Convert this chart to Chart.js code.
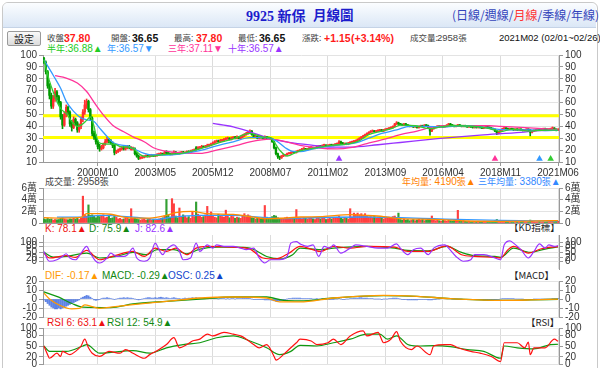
<!DOCTYPE html>
<html><head><meta charset="utf-8">
<script src="https://cdn.jsdelivr.net/npm/chart.js@4.4.0/dist/chart.umd.min.js"></script>
<style>
body{margin:0;width:600px;height:368px;overflow:hidden;background:#fff;position:relative;font-family:"Liberation Sans",Arial,"Noto Sans CJK TC",sans-serif;}
.t{position:absolute;white-space:nowrap;line-height:1;}
canvas{position:absolute;left:0;}
#frame{position:absolute;left:2px;top:2px;width:594px;height:370px;border:1px solid #c9c9c9;border-radius:6px;}
#hdr{position:absolute;left:3px;top:3px;width:593px;height:24px;border-radius:5px 5px 0 0;background:linear-gradient(#fbfdff,#dbe7f6);border-bottom:1px solid #c5d3e6;}
#btn{position:absolute;left:7px;top:31px;width:32px;height:13px;border:1px solid #9a9a9a;border-radius:2px;background:linear-gradient(#fafafa,#dcdcdc);font-size:10px;line-height:13px;text-align:center;color:#222;font-family:"Noto Sans CJK TC",sans-serif;}
.c{font-family:"Noto Sans CJK TC","Liberation Sans",sans-serif;}
</style></head><body>
<div id="frame"></div>
<div id="hdr"></div>
<div class="t" style="left:246px;top:8px;font-size:14px;font-weight:bold;color:#1c1ccc;font-family:'Liberation Serif','Noto Sans CJK TC',serif;">9925 <span class="c">新保</span></div>
<div class="t c" style="left:313px;top:8px;font-size:13.5px;font-weight:bold;color:#1c1ccc;">月線圖</div>
<div class="t c" style="left:452px;top:9px;font-size:12px;color:#3344bb;">(日線/週線/<span style="color:#ff3333">月線</span>/季線/年線)</div>
<div id="btn">設定</div>
<div class="t c" style="left:47px;top:33px;font-size:8.5px;color:#444;">收盤:</div>
<div class="t" style="left:64px;top:32.5px;font-size:10.5px;font-weight:bold;color:#ff1a1a;">37.80</div>
<div class="t c" style="left:111px;top:33px;font-size:8.5px;color:#444;">開盤:</div>
<div class="t" style="left:132px;top:32.5px;font-size:10.5px;font-weight:bold;color:#111;">36.65</div>
<div class="t c" style="left:174px;top:33px;font-size:8.5px;color:#444;">最高:</div>
<div class="t" style="left:196px;top:32.5px;font-size:10.5px;font-weight:bold;color:#ff1a1a;">37.80</div>
<div class="t c" style="left:238px;top:33px;font-size:8.5px;color:#444;">最低:</div>
<div class="t" style="left:259px;top:32.5px;font-size:10.5px;font-weight:bold;color:#111;">36.65</div>
<div class="t c" style="left:302px;top:33px;font-size:8.5px;color:#444;">漲跌:</div>
<div class="t" style="left:324px;top:32.5px;font-size:10.5px;font-weight:bold;color:#ff1a1a;">+1.15</div>
<div class="t" style="left:351px;top:32.5px;font-size:10.5px;font-weight:bold;color:#ff1a1a;">(+3.14%)</div>
<div class="t c" style="left:410px;top:33px;font-size:8.5px;color:#444;">成交量:</div>
<div class="t" style="left:437px;top:33px;font-size:9.5px;color:#444;">2958<span class="c" style="font-size:8.5px">張</span></div>
<div class="t" style="left:499px;top:33px;font-size:9.5px;color:#111;">2021M02 (02/01~02/26)</div>
<div class="t" style="left:47px;top:43.5px;font-size:10px;color:#22cc22;"><span class="c" style="font-size:9px">半年</span>:36.88▲</div>
<div class="t" style="left:107px;top:43.5px;font-size:10px;color:#3399ff;"><span class="c" style="font-size:9px">年</span>:36.57▼</div>
<div class="t" style="left:168px;top:43.5px;font-size:10px;color:#ff3399;"><span class="c" style="font-size:9px">三年</span>:37.11▼</div>
<div class="t" style="left:228px;top:43.5px;font-size:10px;color:#9933ff;"><span class="c" style="font-size:9px">十年</span>:36.57▲</div>

<div class="t" style="left:45px;top:176.5px;font-size:10px;color:#444;"><span class="c" style="font-size:9px">成交量</span>: 2958<span class="c" style="font-size:9px">張</span></div>
<div class="t" style="left:402px;top:176.5px;font-size:10px;color:#ff8000;"><span class="c" style="font-size:9px">年均量</span>: 4190<span class="c" style="font-size:9px">張</span>▲</div>
<div class="t" style="left:478px;top:176.5px;font-size:10px;color:#3388ff;"><span class="c" style="font-size:9px">三年均量</span>: 3380<span class="c" style="font-size:9px">張</span>▲</div>
<div class="t" style="left:45px;top:223.5px;font-size:10px;color:#ee1111;">K: 78.1▲</div>
<div class="t" style="left:89px;top:223.5px;font-size:10px;color:#118811;">D: 75.9▲</div>
<div class="t" style="left:135px;top:223.5px;font-size:10px;color:#9933ff;">J: 82.6▲</div>
<div class="t c" style="left:509px;top:223px;font-size:9.5px;color:#222;">【KD指標】</div>
<div class="t" style="left:45px;top:271px;font-size:10px;color:#ff9900;">DIF: -0.17▲</div>
<div class="t" style="left:102px;top:271px;font-size:10px;color:#118811;">MACD: -0.29▲</div>
<div class="t" style="left:168px;top:271px;font-size:10px;color:#1144cc;">OSC: 0.25▲</div>
<div class="t c" style="left:509px;top:270.5px;font-size:9.5px;color:#222;">【MACD】</div>
<div class="t" style="left:47px;top:317.5px;font-size:10px;color:#ee1111;">RSI 6: 63.1▲</div>
<div class="t" style="left:107px;top:317.5px;font-size:10px;color:#118811;">RSI 12: 54.9▲</div>
<div class="t c" style="left:526px;top:318px;font-size:9.5px;color:#222;">【RSI】</div>

<script>
// ---- time axis ----
const firstMonth = '1998M05';
const tickLabels = ['2000M10','2003M05','2005M12','2008M07','2011M02','2013M09','2016M04','2018M11','2021M06'];

// ---- monthly candles (index 0 = first month) ----
const open = [
 97,94,86,74,66,57,63,69,65,60,48,41,
 50,56,52,42,39,46,43,37,40,46,52,58,
 61,54,47,34,31,27,23,21,22,25,27,29,
 28,26,24,18,19,20,21,22,21,22,23,20.5,
 21,21,17,15,13,13.5,14,14.5,15,14.5,15,15.5,
 15,15.5,16,16.5,17,16.5,18.5,17.5,17,16.5,17,18.5,
 17.5,17,17.5,18,17.5,18,18.5,18,19,19.5,22,21,
 22,22,23,22.5,23,24,24,25,26,27,27.5,27,
 28,28,29,29.5,30,29,30,30.5,30,31,30,31,
 32,33,34,35,36,33,31,31.5,30,31,30.5,30,
 31,30.5,30,29.5,27,22,17,14.5,13.5,15,15.5,16,
 17,17,18,18.5,18,19,19.5,20,21,21,20.5,21,
 22,22,21.5,22,23,23.5,23,24,24,23.5,24,24.5,
 24,24.5,25,25.5,27,26,25,25.5,25,26,26.5,27,
 27.5,28,29,30,31,32,33,34,35,35.5,36,35.5,
 36,36.5,37,36,37,37.5,38,38.5,39,40,42,43,
 42,41.5,41,42,41,40.5,40,40,39.5,40,39,40,
 40.5,40,41,40.5,39,36,38,39,39.5,40,39.5,40,
 39.5,40,41,42,41,40.5,40,40.5,41,40.5,40,40.5,
 40,39.5,40,39.5,39,39.5,39,39.5,39,38.5,39,39.5,
 39,38.5,38,37.5,36,34,35.5,37,38,38.5,38,37.5,
 38,37.5,37,37.5,37,37.5,37,36.5,37,37.5,37,35,
 36,36.5,37,37.5,37,37.5,38,37.5,37,37.5,38,38.5,37.5,36.65];
const high = [
 98,95,87,76,68,66,72,70,66,61,50,52,
 58,57,53,45,48,47,44,42,48,54,62,63,
 62,55,48,36,33,28,25,24,26,29,31,30,
 29,27,25,20,21,22,23,23,23,24,24,23,
 22.5,22,18,16,14.5,15,15.5,16,16,16,16.5,16,
 16.5,17,17.5,18,17.5,19,19.5,18,17.5,18,19.5,19,
 18,18.5,19,19,18.5,19.5,19.5,20,20.5,21,23,23,
 23,24,23.5,24,25,25,26,27,28,28.5,28.5,29,
 29,30,30.5,31,30.5,31,31.5,31.5,32,31.5,32,33,
 34,35,36,37,36.5,33.5,32.5,32,32,31.5,31,32,
 31.5,31,30.5,30,27.5,22.5,17.5,15,15.5,16.5,16.5,17.5,
 18,18.5,19,19,19.5,20,20.5,21.5,22,21.5,21.5,22.5,
 23,22.5,22.5,23.5,24,24,24.5,25,24.5,24.5,25,25,
 25,25.5,26,28,27.5,26.5,26,26,26.5,27,27.5,28,
 28.5,29.5,30.5,31.5,32.5,33.5,34.5,35.5,36.5,37,36.5,36.5,
 37,37.5,37.5,37.5,38,38.5,39,39.5,40.5,42.5,44,43.5,
 42.5,42,42.5,42.5,41.5,41,40.5,40.5,40.5,40.5,40.5,41,
 41,41.5,41.5,41,39.5,38.5,39.5,40,40.5,40.5,40.5,40.5,
 40.5,41.5,42.5,42.5,41.5,41,41,41.5,41.5,41,41,41,
 40.5,40.5,40.5,40,40,40,40,40,39.5,39.5,40,40,
 39.5,39,38.5,38,36.5,36,37.5,38.5,39,39,38.5,38.5,
 38.5,38,38,38,38,38,37.5,37.5,38,38,37.5,36.5,
 37,37.5,38,38,38,38.5,38.5,38,38,38.5,39.5,39,38,37.8];
const low = [
 93,84,72,63,55,55,61,62,58,46,38,40,
 48,50,40,36,38,41,35,35,38,44,50,55,
 52,45,32,29,25,21,19,20,21,24,26,26,
 25,22,16,17,18,19,20,20,20,21,21,20,
 20,16,14,12,12.5,13,13.5,14,14,14,14.5,14.5,
 14.5,15,15.5,16,16,16,17,16.5,16,16,16.5,17,
 16.5,16.5,17,17,17,17.5,17.5,17.5,18.5,19,20,20.5,
 21,21.5,22,22,22.5,23,23.5,24.5,25.5,26.5,26.5,26.5,
 27,27.5,28.5,29,28.5,28.5,29.5,29.5,29.5,29.5,29.5,30.5,
 31.5,32.5,33.5,34,32.5,30.5,30.5,29.5,29.5,30,29.5,29.5,
 29.5,29.5,29,26.5,21,16,13,12,13,14.5,15,15.5,
 16.5,16.5,17.5,17.5,17.5,18.5,19,19.5,20.5,20,20,20.5,
 21,21,21,21.5,22.5,22.5,22.5,23.5,23,23,23.5,23.5,
 23.5,24,24.5,25,25.5,24.5,24.5,24.5,24.5,25.5,26,26.5,
 27,27.5,28.5,29.5,30.5,31.5,32.5,33.5,34.5,35,35,35,
 35.5,36,35.5,35.5,36.5,37,37.5,38,38.5,39.5,41.5,41.5,
 41,40.5,40.5,40.5,40,39.5,39.5,39,39,38.5,38.5,39.5,
 39.5,39.5,40,38.5,32.5,35.5,37.5,38.5,39,39,39,39,
 39,39.5,40.5,40.5,40,39.5,39.5,40,40,39.5,39.5,39.5,
 39,39,39,38.5,38.5,38.5,38.5,38.5,38,38,38.5,38.5,
 38,37.5,37,35.5,33,33.5,35,36.5,37.5,37.5,37,37,
 37,36.5,36.5,36.5,36.5,36.5,36,36,36.5,36.5,32,34.5,
 35.5,36,36.5,36.5,36.5,37,37,36.5,36.5,37,37.5,37,36.2,36.65];
const close = [
 94,86,74,66,57,63,69,65,60,48,41,50,
 56,52,42,39,46,43,37,40,46,52,58,61,
 54,47,34,31,27,23,21,22,25,27,29,28,
 26,24,18,19,20,21,22,21,22,23,22,21,
 21,17,15,13,13.5,14,14.5,15,14.5,15,15.5,15,
 15.5,16,16.5,17,16.5,18,17.5,17,16.5,17,18.5,17.5,
 17,17.5,18,17.5,18,18.5,18,19,19.5,20,21,22,
 22,23,22.5,23,24,24,25,26,27,27.5,27,28,
 28,29,29.5,30,29,30,30.5,30,31,30,31,32,
 33,34,35,36,33,31,31.5,30,31,30.5,30,31,
 30.5,30,29.5,27,22,17,14.5,13.5,15,15.5,16,17,
 17,18,18.5,18,19,19.5,20,21,21,20.5,21,22,
 22,21.5,22,23,23.5,23,24,24,23.5,24,24.5,24,
 24.5,25,25.5,27,26,25,25.5,25,26,26.5,27,27.5,
 28,29,30,31,32,33,34,35,35.5,36,35.5,36,
 36.5,37,36,37,37.5,38,38.5,39,40,42,43,42,
 41.5,41,42,41,40.5,40,40,39.5,40,39,40,40.5,
 40,41,40.5,39,36,38,39,39.5,40,39.5,40,39.5,
 40,41,42,41,40.5,40,40.5,41,40.5,40,40.5,40,
 39.5,40,39.5,39,39.5,39,39.5,39,38.5,39,39.5,39,
 38.5,38,37.5,36,34,35.5,37,38,38.5,38,37.5,38,
 37.5,37,37.5,37,37.5,37,36.5,37,37.5,37,35,36,
 36.5,37,37.5,37,37.5,38,37.5,37,37.5,38,38.5,37.5,36.65,37.8];

// ---- moving averages [monthIndex, value] ----
const maHalfYear = [[0,96],[3,78],[5,69],[7,61],[9,55],[11,52],[12,51],[15,44],[18,40],[20,41],[23,45],[25,48],[27,40],[28,33],[30,26],[34,25],[38,25],[41,23],[45,22.5],[48,21.5],[52,16],[55,14.5],[59,15],[66,16.5],[75,17.5],[84,21],[93,25.5],[102,29.5],[111,34],[118,31],[122,30],[124,27],[127,20],[131,15],[137,19],[145,21.5],[155,24],[165,25.5],[170,28],[175,33],[182,36],[188,38.5],[192,41],[200,40.5],[208,38],[212,39],[220,40.5],[235,39.5],[243,37],[246,35.5],[252,37.5],[262,36],[265,36.5],[277,36.88]];
const maYear = [[0,96],[5,83],[9,72],[12,61],[16,52.6],[20,47],[23,45.5],[27,44],[30,38.5],[34,31.4],[37,26.6],[41,24.4],[45,23.5],[48,21.5],[54,17.3],[59,15.9],[66,15.9],[73,16.7],[84,19.5],[93,23.5],[102,27],[111,30.5],[120,30.5],[125,28],[130,22],[134,19],[138,18.8],[145,21],[152,23],[160,24.5],[168,26],[175,30],[182,34],[190,37],[197,40],[205,40],[215,39.5],[225,40.5],[235,39.5],[245,37.5],[252,37],[262,37],[270,36.5],[277,36.57]];
const maThreeYear = [[6,82.6],[12,80.6],[18,76.4],[23,69.3],[28,58],[32,49.6],[37,41],[43,35.4],[48,31.2],[54,27],[59,22],[64,19.5],[70,18.3],[84,17.3],[93,20],[104,24],[111,27],[122,29.2],[129,27.5],[138,24],[147,22],[158,21],[165,22],[174,25.5],[183,29],[192,33],[201,36],[210,39.5],[220,40.5],[240,40.5],[246,40],[264,38.5],[277,37.11]];
const maTenYear = [[91,42.4],[102,39.6],[111,35.4],[122,29.6],[132,26.5],[145,24],[155,22.5],[165,22.5],[180,24.5],[192,26.4],[212,29.6],[235,32.6],[257,34.9],[267,36.5],[277,36.57]];
const levelHigh = 48.8, levelLow = 30.6;
const signals = [[159,12.7],[243,12.7],[267,12.7],[273,12.7]];

// ---- volume (張) ----
const volume = [
 7000,6000,8000,6500,7000,5000,6000,5500,6000,8000,9000,7000,
 6000,5500,7000,6500,8000,7000,9000,6000,8000,46000,14000,12000,
 31000,13000,14000,12000,9000,13000,11000,12000,14000,9000,10000,12000,
 8000,9000,13000,10000,7000,8000,6000,7000,9000,8000,7000,24500,
 8000,9000,7000,6000,5000,6000,7000,5000,6000,7000,5000,6000,
 5000,6000,7000,8000,9000,12000,40500,14000,10000,41700,33000,12000,
 9000,25700,10000,14000,12000,9000,11000,8000,20000,11000,36000,15000,
 12000,10000,11000,14000,28500,12000,19000,13000,10000,9000,15000,12000,
 11000,10000,22000,12000,9000,13000,11000,8000,10000,9000,8000,12000,
 16000,10000,14000,12000,9000,8000,7000,9000,8000,7000,9000,30000,
 10000,8000,9000,11000,13000,12000,9000,8000,7000,8000,9000,10000,
 8000,9000,7000,8000,23000,9000,8000,7000,9000,8000,7000,9000,
 8000,7000,6000,9000,8000,7000,9000,8000,6000,7000,8000,7000,
 9000,8000,10000,12000,8000,7000,9000,8000,7000,24500,10000,17000,
 15000,17000,14000,16000,13000,16000,12000,10000,11000,9000,12000,8000,
 9000,10000,8000,7000,9000,8000,10000,9000,11000,12000,9000,17000,
 6000,5000,7000,5000,6000,4000,5000,6000,4000,5000,7000,5000,
 6000,4000,5000,6000,7000,12000,5000,4000,6000,4000,3000,5000,
 4000,3000,5000,4000,3000,4000,5000,21700,4000,3000,4000,3000,
 2500,3000,2000,3000,2500,2000,3000,2500,2000,3000,2500,2000,
 2000,2500,3000,4000,6000,4000,3000,2500,2000,2500,2000,1500,
 2000,1500,2500,2000,1500,2000,2500,2000,1500,2000,5000,3000,
 2000,1500,2000,2500,1500,2000,1500,2000,2500,3000,4000,2500,3500,2958];
const volYearAvg = [[0,9000],[10,8500],[20,9500],[23,16000],[30,16000],[36,15000],[43,10000],[50,8500],[57,8500],[66,13000],[71,17700],[80,20000],[88,16000],[102,14800],[113,10000],[120,7400],[131,8600],[138,10300],[150,11000],[165,14300],[174,13000],[183,11000],[192,7400],[210,6300],[228,3400],[246,2900],[262,3200],[277,4190]];
const volThreeYearAvg = [[7,10000],[21,10000],[30,13000],[48,10000],[62,6300],[69,10000],[84,13000],[102,13000],[116,10000],[129,7400],[138,8600],[174,10300],[192,9100],[210,7400],[228,5700],[246,4600],[277,3380]];

// ---- KD ----
const kdK = [[0,44],[3,19],[12,31],[17,22],[23,58],[30,10],[38,31],[48,53],[54,27],[60,70],[66,53],[71,70],[77,36],[82,70],[88,79],[102,75],[111,65],[118,19],[125,14],[132,44],[138,79],[149,53],[156,79],[165,70],[174,79],[189,75],[196,53],[207,53],[217,82],[225,36],[232,27],[243,22],[246,19],[250,62],[253,79],[261,44],[268,67],[277,78.1]];
const kdD = [[0,48],[5,24],[12,27],[23,44],[30,19],[39,27],[48,48],[55,36],[61,62],[70,62],[77,41],[84,65],[93,75],[102,75],[111,70],[120,27],[127,14],[134,36],[138,70],[149,62],[156,70],[174,79],[189,70],[196,58],[207,56],[217,79],[225,48],[232,31],[243,27],[246,22],[253,70],[262,48],[270,65],[277,75.9]];
const kdJ = [[0,53],[2,10],[3,2],[7,10],[10,27],[12,41],[14,19],[17,10],[20,44],[23,79],[25,44],[28,2],[30,-7],[34,19],[36,44],[39,27],[43,27],[45,36],[48,70],[50,19],[54,2],[57,19],[60,96],[62,62],[64,36],[66,62],[70,87],[73,53],[75,10],[79,19],[82,96],[84,53],[88,87],[91,70],[93,87],[97,79],[102,79],[106,70],[109,62],[113,70],[116,19],[119,-7],[122,10],[127,10],[131,27],[133,96],[136,104],[138,92],[142,79],[145,87],[148,27],[151,79],[154,70],[156,87],[160,44],[165,70],[168,87],[174,79],[180,70],[185,70],[190,92],[192,70],[196,36],[199,62],[203,70],[207,36],[210,70],[216,87],[218,70],[222,27],[226,2],[230,10],[232,36],[237,36],[243,19],[246,10],[248,87],[251,108],[253,96],[257,62],[261,19],[264,53],[267,92],[270,70],[272,87],[275,79],[277,82.6]];

// ---- MACD ----
const macdDIF = [[0,6.5],[3,0],[9,-7.5],[15,-11],[19,-10.5],[22,-6.5],[26,-8.5],[30,-10.5],[36,-9],[48,-6.3],[66,-2.6],[84,1.1],[102,2.2],[120,1.1],[127,-3.3],[138,-3.2],[156,1.1],[183,4.1],[201,3],[219,0.4],[246,-1.5],[262,-1],[277,-0.17]];
const macdLine = [[0,8],[8,2],[15,-5],[21,-9],[36,-9.5],[48,-5.5],[66,-2.6],[84,0],[102,2.2],[120,2.2],[129,-1.5],[138,-2],[156,1.1],[183,3.7],[201,3],[219,0.4],[246,-1.5],[262,-1],[277,-0.29]];
const macdOSC = [
 -1,-3,-5,-7,-9,-10,-11,-11,-10,-11,-10,-9,
 -8,-7,-6,-5,-4,-3,-2,-1,1,2,3,4,
 3.5,2,0.5,-1,-1.5,-1,-0.5,0.5,1,1,1.5,1,
 0.5,0,-0.5,0,0.5,1,1,1.5,1,1.5,1,1,
 0.5,0,-0.5,-1,-0.5,0,0.5,1,1.5,1.5,1,1,
 1.5,1,1.5,2,1.5,1,1.5,1,0.5,1,1.5,1,
 0.5,0.5,0,0.5,1,0.5,1,1,1.5,1,1.5,1,
 1,0.5,0.5,1,1,0.5,0.5,1,1,0.5,0,0.5,
 0.5,0.5,0,0.5,0,0.5,0.5,0,0.5,0.5,0.5,1,
 1,1,1,0.5,0,-0.5,-0.5,-0.5,-0.5,-0.5,-0.5,-1,
 -1,-1,-1,-1.5,-2,-2.5,-2.5,-2,-1.5,-1,-0.5,0,
 0.5,0.5,1,1,1,1,1,0.5,0.5,0.5,0.5,0.5,
 0.5,0,0,0.5,0,0,0.5,0,0,0,-0.5,-0.5,
 -0.5,0,0,0.5,0,-0.5,-0.5,0,0,0.5,0.5,1,
 1,1,1.5,1.5,1,1,1,0.5,0.5,0.5,0,0,
 0,0,-0.5,0,0,0,0.5,0.5,1,1,1,0.5,
 0,-0.5,-0.5,-0.5,-1,-1,-1,-1,-1,-1,-0.5,-0.5,
 -0.5,-0.5,-0.5,-1,-1,-1,-0.5,-0.5,0,0,0.5,0.5,
 0.5,0.5,0.5,0.5,0,0,0,0,0,0,-0.5,-0.5,
 -0.5,-0.5,-0.5,-0.5,-0.5,-0.5,-0.5,-0.5,-0.5,-1,-1,-1,
 -1,-1,-1,-1,-1,-0.5,0,0.5,0.5,0.5,0.5,0.5,
 0.5,0.5,0,0,0,0,0,-0.5,-0.5,-0.5,-0.5,-0.5,
 0,0,0,0,0,0,0,0,0,0,0.5,0.5,0.5,0.25];

// ---- RSI ----
const rsi6 = [[0,50],[2,26],[3,16],[7,30],[9,21],[10,35],[14,26],[17,35],[20,50],[22,69],[24,45],[26,30],[30,21],[35,35],[41,30],[44,40],[48,30],[54,16],[57,26],[62,40],[66,54],[70,73],[73,45],[77,54],[80,64],[84,69],[88,83],[91,78],[97,88],[102,83],[106,78],[109,69],[113,54],[116,45],[120,54],[124,21],[125,11],[129,26],[133,45],[136,59],[138,69],[144,64],[147,54],[153,59],[156,69],[160,54],[165,78],[172,92],[174,78],[180,88],[183,59],[187,69],[190,90],[192,64],[198,40],[201,50],[208,26],[210,50],[216,54],[219,54],[223,45],[230,35],[235,30],[241,21],[246,7],[248,59],[255,59],[259,45],[261,61],[262,26],[264,45],[270,45],[275,69],[277,63.1]];
const rsi12 = [[0,50],[3,35],[12,35],[21,50],[23,54],[30,30],[48,37],[57,30],[66,45],[75,54],[84,59],[93,73],[102,78],[111,64],[120,45],[127,26],[133,35],[138,52],[147,50],[156,59],[165,69],[174,83],[181,83],[185,69],[190,78],[196,54],[201,50],[210,51],[219,48],[228,40],[237,35],[246,16],[248,50],[255,45],[264,42],[273,54],[277,54.9]];

// ================= drawing =================
const FONT = '"Liberation Sans", Arial, "Noto Sans CJK TC", sans-serif';
Chart.defaults.font.family = FONT;
Chart.defaults.font.size = 10;
Chart.defaults.color = '#333';

const monthIndex = lbl => {
  const y0 = +firstMonth.slice(0,4), m0 = +firstMonth.slice(5);
  return (+lbl.slice(0,4) - y0) * 12 + (+lbl.slice(5) - m0);
};
const tickPos = tickLabels.map(monthIndex);
const lastIdx = close.length - 1;
const UP = '#ff3030', DOWN = '#009a00';
const isUp = i => close[i] >= open[i];
const pts = arr => arr.map(p => ({x: p[0], y: p[1]}));

function mk(top, h) {
  const c = document.createElement('canvas');
  c.width = 600; c.height = h; c.style.top = top + 'px';
  document.body.appendChild(c);
  return c;
}
function xAxis(show, border) {
  return {type:'linear', min:-0.5, max:lastIdx + 0.5, offset:false,
    afterBuildTicks: s => { s.ticks = tickPos.map(v => ({value:v})); },
    afterFit: s => { s.height = show ? 18 : 0; },
    ticks:{display:show, autoSkip:false, maxRotation:0, color:'#333', font:{size:10}, padding:1,
      callback:(v, i) => tickLabels[i]},
    grid:{color:'#dcdcdc', tickColor:'#999', tickLength: show ? 4 : 0, drawTicks: show, offset:false},
    border:{display:border, color:'#999'}};
}
function yAxis(pos, min, max, ticks, fmt) {
  const left = pos === 'left';
  return {type:'linear', position:pos, min, max,
    afterBuildTicks: s => { s.ticks = ticks.map(v => ({value:v})); },
    afterFit: s => { s.width = left ? 43 : 41; },
    ticks:{autoSkip:false, color:'#333', font:{size:10}, padding:2, callback: fmt || (v => String(v))},
    grid:{display:true, drawOnChartArea:left, color:'#e3e3e3', tickColor:'#999', tickLength:4},
    border:{display:true, color:'#999'}};
}
const framePlugin = {id:'frame', afterDraw(c, a, o){
  if (!o.on) return;
  const r = c.chartArea, x = c.ctx;
  x.save(); x.strokeStyle = '#999'; x.lineWidth = 1;
  x.strokeRect(Math.round(r.left) + 0.5, Math.round(r.top) + 0.5, Math.round(r.right - r.left) - 1, Math.round(r.bottom - r.top));
  x.restore();
}};
function opts(scales, padTop, padBottom, frame) {
  return {responsive:false, animation:false, devicePixelRatio:1, events:[],
    layout:{padding:{top:padTop, bottom:padBottom, left:0, right:0}},
    plugins:{legend:{display:false}, tooltip:{enabled:false}, frame:{on:frame}},
    scales};
}
function lineDs(data, color, w, order, tension) {
  return {type:'line', data: pts(data), borderColor:color, borderWidth:w, pointRadius:0,
    tension: tension === undefined ? 0.3 : tension, cubicInterpolationMode:'monotone', order, fill:false};
}
const idx = close.map((_, i) => i);
const range = (a, b, s) => { const r = []; for (let v = a; v <= b; v += s) r.push(v); return r; };

// main price chart
new Chart(mk(47, 133), {
  type:'bar',
  data:{datasets:[
    {type:'line', data:[{x:-0.5,y:levelHigh},{x:lastIdx+0.5,y:levelHigh}], borderColor:'#ffff00', borderWidth:3, pointRadius:0, order:20},
    {type:'line', data:[{x:-0.5,y:levelLow},{x:lastIdx+0.5,y:levelLow}], borderColor:'#ffff00', borderWidth:3, pointRadius:0, order:20},
    {type:'bar', data: idx.map(i => ({x:i, y:[low[i], high[i]]})), backgroundColor: idx.map(i => isUp(i) ? UP : DOWN),
      barThickness:1, grouped:false, minBarLength:1, order:10},
    {type:'bar', data: idx.map(i => ({x:i, y:[open[i], close[i]]})), backgroundColor: idx.map(i => isUp(i) ? UP : DOWN),
      barThickness:1.7, grouped:false, minBarLength:1, order:9},
    lineDs(maTenYear, '#9933ff', 1.3, 4),
    lineDs(maThreeYear, '#ff3399', 1.3, 3),
    lineDs(maYear, '#3399ff', 1.3, 2),
    lineDs(maHalfYear, '#33cc33', 1.3, 1),
    {type:'line', showLine:false, data: pts(signals), pointStyle:'triangle', pointRadius:3.8, borderWidth:0,
      pointBackgroundColor:['#9933ff','#ff3399','#3399ff','#33cc33'], order:0}
  ]},
  options: opts({x: xAxis(true, true), y: yAxis('left', 10, 100, range(10,100,10)), y2: yAxis('right', 10, 100, range(10,100,10))}, 8, 0, false)
});

// volume
const vfmt = v => v === 0 ? '0' : (v / 10000) + '萬';
new Chart(mk(180, 51), {
  type:'bar',
  data:{datasets:[
    {type:'bar', data: idx.map(i => ({x:i, y:volume[i]})), backgroundColor: idx.map(i => isUp(i) ? '#ff4040' : '#33a033'),
      barThickness:1.5, grouped:false, order:5},
    lineDs(volThreeYearAvg, '#3399ff', 1.3, 2),
    lineDs(volYearAvg, '#ff8c00', 1.3, 1)
  ]},
  options: opts({x: xAxis(false, true), y: yAxis('left', 0, 60000, [0,20000,40000,60000], vfmt), y2: yAxis('right', 0, 60000, [0,20000,40000,60000], vfmt)}, 8, 8, false)
});

// KD
new Chart(mk(227, 50), {
  type:'line',
  data:{datasets:[
    lineDs(kdD, '#119911', 1.2, 3, 0.2),
    lineDs(kdK, '#ff1111', 1.2, 2, 0.2),
    lineDs(kdJ, '#9933ff', 1.2, 1, 0.2)
  ]},
  options: opts({x: xAxis(false, false), y: yAxis('left', -38, 138, [0,20,50,80,100]), y2: yAxis('right', -38, 138, [0,20,50,80,100])}, 8, 8, true)
});

// MACD
new Chart(mk(273, 52), {
  type:'bar',
  data:{datasets:[
    {type:'bar', data: idx.map(i => ({x:i, y:macdOSC[i]})), backgroundColor:'rgba(40,90,220,0.75)', barThickness:1.3, grouped:false, order:5},
    lineDs(macdLine, '#119911', 1.3, 2, 0.3),
    lineDs(macdDIF, '#ff9900', 1.3, 1, 0.3)
  ]},
  options: opts({x: xAxis(false, false), y: yAxis('left', -20, 20, [-20,-10,0,10,20]), y2: yAxis('right', -20, 20, [-20,-10,0,10,20])}, 8, 8, true)
});

// RSI
new Chart(mk(320, 52), {
  type:'line',
  data:{datasets:[
    lineDs(rsi12, '#119911', 1.2, 2, 0.2),
    lineDs(rsi6, '#ff1111', 1.2, 1, 0.2)
  ]},
  options: opts({x: xAxis(false, false), y: yAxis('left', 0, 100, [0,20,50,80,100]), y2: yAxis('right', 0, 100, [0,20,50,80,100])}, 8, 8, true)
});
</script>
</body></html>
